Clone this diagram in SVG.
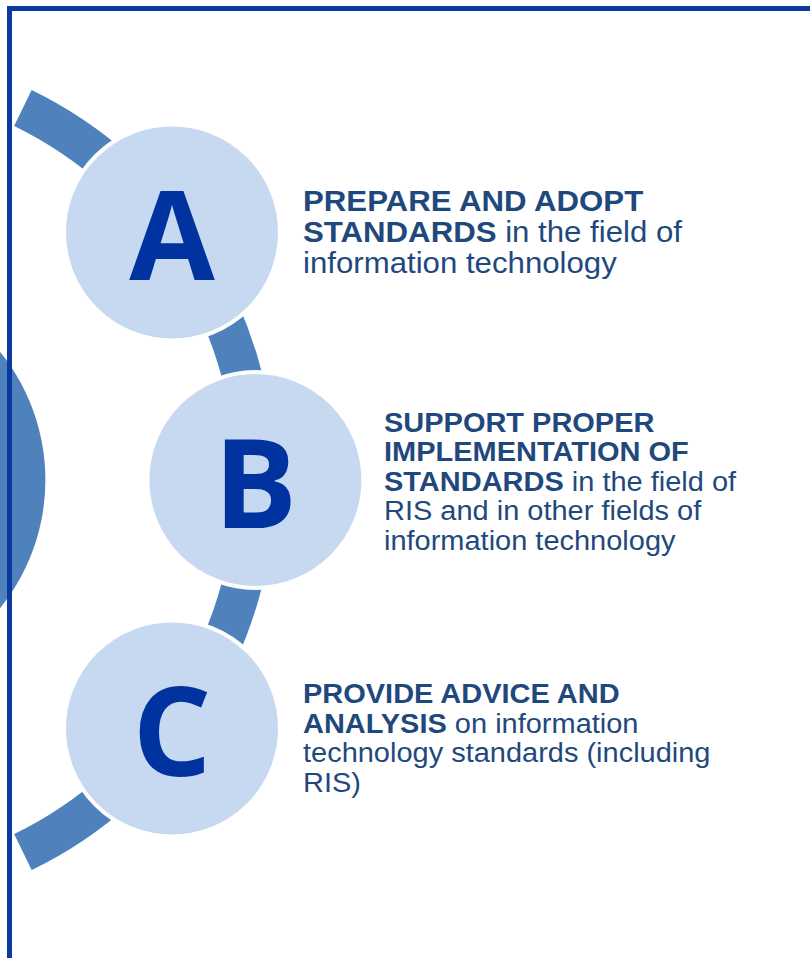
<svg xmlns="http://www.w3.org/2000/svg" width="810" height="958" viewBox="0 0 810 958">
  <style>
    .ring { fill: none; stroke: #4F81BD; stroke-width: 40; stroke-linecap: butt; }
    .bubble { fill: #C6D9F1; stroke: #FFFFFF; stroke-width: 4; }
    .letter { font-family: "Open Sans", "Liberation Sans", sans-serif; font-weight: 700; font-size: 124px; fill: #0033A0; text-anchor: middle; }
    .desc { font-family: "Liberation Sans", Arial, sans-serif; fill: #1F497D; }
    .b { font-weight: 700; }
  </style>
  <rect x="0" y="0" width="810" height="958" fill="#FFFFFF"/>
  <g id="hub">
    <circle cx="-158.6" cy="480" r="204" fill="#4F81BD"/>
  </g>
  <g id="connectors">
    <path class="ring" d="M 22.9 107.9 A 414 414 0 0 1 22.9 852.1"/>
  </g>
  <g id="node-a">
    <circle class="bubble" cx="172" cy="232.5" r="108"/>
    <text class="letter" x="172" y="280">A</text>
    <g class="desc" font-size="30" transform="translate(303,0) scale(1.04,1)">
      <text x="0" y="211.5"><tspan class="b">PREPARE AND ADOPT</tspan></text>
      <text x="0" y="242.5"><tspan class="b">STANDARDS</tspan> in the field of</text>
      <text x="0" y="273.5">information technology</text>
    </g>
  </g>
  <g id="node-b">
    <circle class="bubble" cx="255.4" cy="480" r="108"/>
    <text class="letter" x="255.4" y="527.5">B</text>
    <g class="desc" font-size="28" transform="translate(384,0) scale(1.035,1)">
      <text x="0" y="432"><tspan class="b">SUPPORT PROPER</tspan></text>
      <text x="0" y="461.5"><tspan class="b">IMPLEMENTATION OF</tspan></text>
      <text x="0" y="491"><tspan class="b">STANDARDS</tspan> in the field of</text>
      <text x="0" y="520.5">RIS and in other fields of</text>
      <text x="0" y="550">information technology</text>
    </g>
  </g>
  <g id="node-c">
    <circle class="bubble" cx="172" cy="728.5" r="108"/>
    <text class="letter" x="172" y="776">C</text>
    <g class="desc" font-size="28" transform="translate(303,0) scale(1.035,1)">
      <text x="0" y="703.5"><tspan class="b">PROVIDE ADVICE AND</tspan></text>
      <text x="0" y="733"><tspan class="b">ANALYSIS</tspan> on information</text>
      <text x="0" y="762.5">technology standards (including</text>
      <text x="0" y="792">RIS)</text>
    </g>
  </g>
  <g id="frame">
    <rect x="9.5" y="8.5" width="900" height="1000" fill="none" stroke="#0A3A9F" stroke-width="5"/>
  </g>
</svg>
